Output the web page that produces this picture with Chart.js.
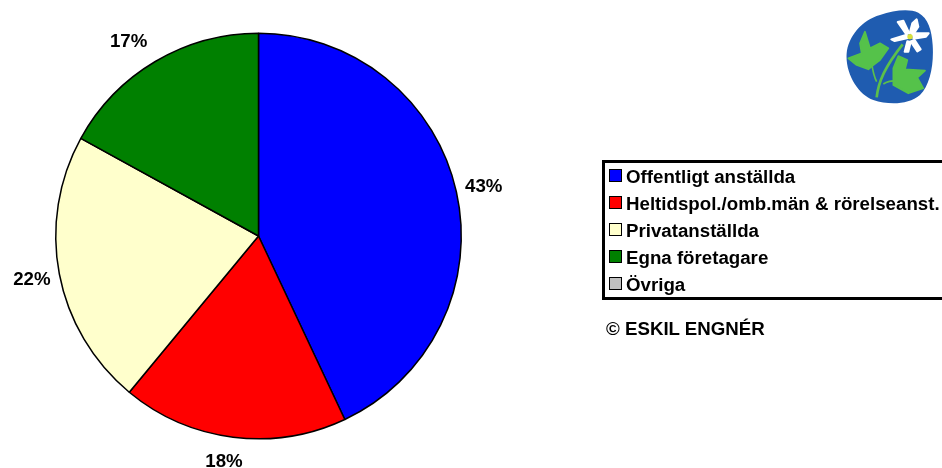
<!DOCTYPE html>
<html><head><meta charset="utf-8">
<script src="https://cdn.jsdelivr.net/npm/chart.js@4"></script>
<style>
html,body{margin:0;padding:0;background:#fff;width:942px;height:468px;overflow:hidden}
#wrap{position:relative;width:942px;height:468px;font-family:"Liberation Sans",Arial,sans-serif;font-weight:bold;color:#000}
canvas{position:absolute;left:0;top:0}
#legend{position:absolute;left:602px;top:160px;width:360px;height:134px;border:3px solid #000;box-sizing:content-box}
.row{position:absolute;left:4px;height:20px;line-height:20px;font-size:18.7px;white-space:nowrap}
.sw{position:absolute;left:0;top:1px;width:11px;height:11px;border:1px solid #000}
.tx{position:absolute;left:17px;top:-1px}
#copy{position:absolute;left:606px;top:319px;font-size:18.7px;line-height:20px;white-space:nowrap}
#logo{position:absolute;left:830px;top:10px}
</style></head><body>
<div id="wrap">
<canvas id="c" width="942" height="468"></canvas>
<div id="legend"></div>
<div id="copy">© ESKIL ENGNÉR</div>
<svg id="logo" width="112" height="100" viewBox="0 0 336 300">
<path d="M50 130C55 80 95 30 150 15C190 2 235-5 265 8C295 25 305 60 308 105C312 165 300 225 270 255C235 285 175 285 130 270C85 255 45 190 50 130Z" fill="#1f5cb0"/>
<path d="M140 262C145 215 165 170 218 103" fill="none" stroke="#5cc04a" stroke-width="8"/>
<path d="M140 215C132 200 128 180 125 160" fill="none" stroke="#5cc04a" stroke-width="5"/>
<path d="M160 222C170 215 185 212 205 212" fill="none" stroke="#5cc04a" stroke-width="5"/>
<path d="M105 65L120 115L150 100L175 115L150 150L130 165L115 178L80 165L55 145L95 130L90 100Z" fill="#55c24a" stroke="#55c24a" stroke-width="5" stroke-linejoin="round"/>
<path d="M205 138L232 150L225 178L285 182L262 203L280 235L235 250L190 225L190 175Z" fill="#55c24a" stroke="#55c24a" stroke-width="5" stroke-linejoin="round"/>
<g fill="#fff" stroke="#fff" stroke-width="6" stroke-linejoin="round">
<path d="M203 36L220 32L238 70L228 72Z"/>
<path d="M260 28L265 50L248 76L240 66L247 40Z"/>
<path d="M250 70L296 70L288 80L250 86Z"/>
<path d="M254 90L272 118L262 124L242 94Z"/>
<path d="M232 94L242 96L235 125L224 125Z"/>
<path d="M184 88L230 74L234 84L194 93Z"/>
</g>
<circle cx="240" cy="80" r="8" fill="#d8e03a"/>
</svg>
</div>
<script>
const categories = ["Offentligt anställda","Heltidspol./omb.män & rörelseanst.","Privatanställda","Egna företagare","Övriga"];
const values = [43,18,22,17,0];
const sliceColors = ["#0000ff","#ff0000","#ffffcc","#008000","#c0c0c0"];
const tickLabels = ["43%","18%","22%","17%",""];

const legend=document.getElementById('legend');
categories.forEach((n,i)=>{
  const r=document.createElement('div');r.className='row';r.style.top=(5+i*27)+'px';
  const s=document.createElement('div');s.className='sw';s.style.background=sliceColors[i];
  const t=document.createElement('div');t.className='tx';t.textContent=n;
  r.append(s,t);legend.append(r);
});

const labelOut=[25,25,28,23];
const labelShiftX=[3,-6,0,-15];
const labelShiftY=[1,0,1,0];
const pctLabels={id:'pctLabels',afterDatasetsDraw(ch){
  const {ctx}=ch;ctx.save();
  ctx.font='bold 18.7px "Liberation Sans", Arial, sans-serif';
  ctx.fillStyle='#000';ctx.textAlign='center';ctx.textBaseline='middle';
  ch.getDatasetMeta(0).data.forEach((a,i)=>{
    if(!tickLabels[i])return;
    const m=(a.startAngle+a.endAngle)/2,r=a.outerRadius+labelOut[i];
    ctx.fillText(tickLabels[i],a.x+r*Math.cos(m)+labelShiftX[i],a.y+r*Math.sin(m)+labelShiftY[i]);
  });
  ctx.restore();
}};
new Chart(document.getElementById('c'),{
  type:'pie',
  data:{labels:categories,datasets:[{data:values,backgroundColor:sliceColors,borderColor:'#000',borderWidth:1.5,borderAlign:'center'}]},
  options:{responsive:false,animation:false,
    layout:{padding:{left:55,top:32,right:480,bottom:28}},
    plugins:{legend:{display:false},tooltip:{enabled:false},title:{display:false}}},
  plugins:[pctLabels]
});
</script>
</body></html>
